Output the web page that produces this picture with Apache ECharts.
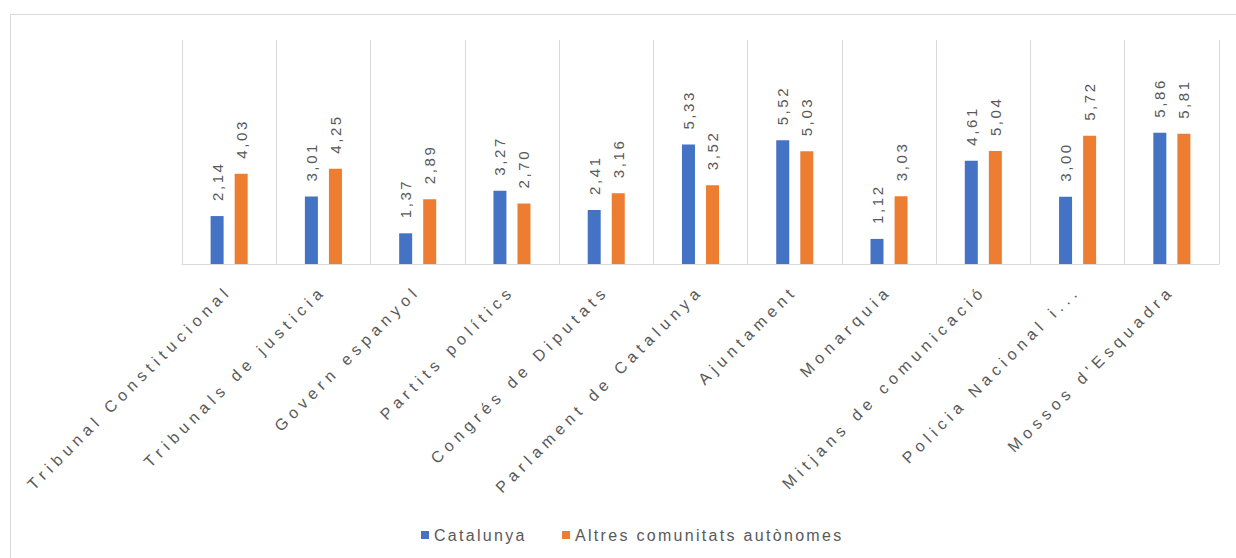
<!DOCTYPE html>
<html><head><meta charset="utf-8">
<script src="https://cdn.jsdelivr.net/npm/echarts@6/dist/echarts.min.js"></script>
<style>
html,body{margin:0;padding:0;background:#fff}
#c{width:1236px;height:558px}
#c text[style*="catlbl"]{letter-spacing:5.2px}
#c text[style*="vallbl"]{letter-spacing:2.6px}
#c text[style*="leglbl"]{letter-spacing:2.3px}
</style>
</head><body><div id="c"></div>
<script>
const categories = ["Tribunal Constitucional","Tribunals de justicia","Govern espanyol","Partits polítics","Congrés de Diputats","Parlament de Catalunya","Ajuntament","Monarquia","Mitjans de comunicació","Policia Nacional i...","Mossos d'Esquadra"];
const catalunya = [2.14,3.01,1.37,3.27,2.41,5.33,5.52,1.12,4.61,3.00,5.86];
const altres = [4.03,4.25,2.89,2.70,3.16,3.52,5.03,3.03,5.04,5.72,5.81];
const seriesNames = ["Catalunya","Altres comunitats autònomes"];

const chart = echarts.init(document.getElementById('c'), null, {renderer:'svg'});
const lbl = {
  show:true, position:'top', rotate:90, align:'left', verticalAlign:'middle', distance:15,
  color:'#595959', fontSize:15, fontFamily:'vallbl, Liberation Sans, Arial, sans-serif',
  formatter: p => p.value.toFixed(2).replace('.', ',')
};
chart.setOption({
  animation:false,
  backgroundColor:'#fff',
  graphic:[{type:'rect', shape:{x:10.5,y:14.5,width:1240,height:560}, style:{fill:'none',stroke:'#d9d9d9',lineWidth:1}, silent:true}],
  grid:{left:182, right:17, top:40, bottom:294, containLabel:false},
  legend:{
    data:seriesNames, top:522, left:416, icon:'rect', itemWidth:8, itemHeight:8, itemGap:56,
    textStyle:{color:'#595959', fontSize:16, fontFamily:'leglbl, Liberation Sans, Arial, sans-serif'}
  },
  xAxis:{
    type:'category', data:categories,
    axisLine:{lineStyle:{color:'#d9d9d9', width:1}},
    axisTick:{show:false},
    splitLine:{show:true, lineStyle:{color:'#d9d9d9', width:1}},
    axisLabel:{rotate:45, interval:0, margin:24, color:'#595959', fontSize:16, fontFamily:'catlbl, Liberation Sans, Arial, sans-serif'}
  },
  yAxis:{type:'value', min:0, max:10, show:false, splitLine:{show:false}},
  series:[
    {name:seriesNames[0], type:'bar', data:catalunya, barWidth:13, barGap:'85%', itemStyle:{color:'#4472c4'}, label:lbl},
    {name:seriesNames[1], type:'bar', data:altres, barWidth:13, barGap:'85%', itemStyle:{color:'#ed7d31'}, label:lbl}
  ]
});
</script></body></html>
